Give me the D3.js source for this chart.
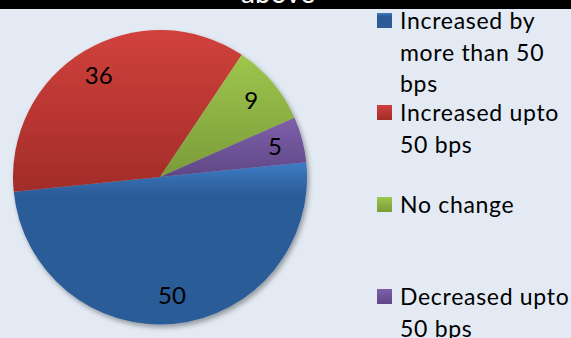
<!DOCTYPE html>
<html>
<head>
<meta charset="utf-8">
<script src="https://cdn.jsdelivr.net/npm/d3@7"></script>
<style>
  html, body { margin: 0; padding: 0; background: #E3EAF3; }
  svg { display: block; }
  text { font-family: Lato, "Liberation Sans", sans-serif; }
</style>
</head>
<body>
<svg id="chart" width="571" height="338"></svg>
<script>
// Share of responses by change in rate
const categories = [
  "Increased by more than 50 bps",
  "Increased upto 50 bps",
  "No change",
  "Decreased upto 50 bps"
];
const values = [50, 36, 9, 5];
// legend text broken into display lines
const legendLines = [
  ["Increased by", "more than 50", "bps"],
  ["Increased upto", "50 bps"],
  ["No change"],
  ["Decreased upto", "50 bps"]
];
const titleText = "above";

// light (top) and dark (bottom) tone of each slice
const colorTop = ["#3D7DC6", "#D1413C", "#9EC64C", "#7E5FA9"];
const colorBottom = ["#2C5C98", "#A22C29", "#7B9B3A", "#5F4886"];

const W = 571, H = 338;
const cx = 160, cy = 177, R = 147;

const svg = d3.select("#chart");
const defs = svg.append("defs");

// soft drop shadow under the pie
const shadow = defs.append("filter").attr("id", "pieShadow")
  .attr("x", "-10%").attr("y", "-10%").attr("width", "125%").attr("height", "125%");
shadow.append("feDropShadow")
  .attr("dx", 2).attr("dy", 3).attr("stdDeviation", 2.5)
  .attr("flood-color", "#000").attr("flood-opacity", 0.35);

categories.forEach((c, i) => {
  const g = defs.append("linearGradient").attr("id", "grad" + i)
    .attr("x1", 0).attr("y1", 0).attr("x2", 0).attr("y2", 1);
  if (i === 0) {
    g.append("stop").attr("offset", "0%").attr("stop-color", colorTop[i]);
    g.append("stop").attr("offset", "20%").attr("stop-color", colorBottom[i]);
    g.append("stop").attr("offset", "100%").attr("stop-color", colorBottom[i]);
  } else {
    g.append("stop").attr("offset", "0%").attr("stop-color", colorTop[i]);
    g.append("stop").attr("offset", "100%").attr("stop-color", colorBottom[i]);
  }
});

// background
svg.append("rect").attr("width", W).attr("height", H).attr("fill", "#E3EAF3");

// title strip (heading runs off the top edge)
svg.append("rect").attr("width", W).attr("height", 9).attr("fill", "#000");
svg.append("text")
  .attr("x", 278).attr("y", 3)
  .attr("text-anchor", "middle")
  .attr("fill", "#fff")
  .attr("font-size", 28)
  .text(titleText);

// pie
const startDeg = 84.2;
const pie = d3.pie().sort(null)
  .startAngle(startDeg * Math.PI / 180)
  .endAngle(startDeg * Math.PI / 180 + 2 * Math.PI);
const arcs = pie(values);
const arc = d3.arc().innerRadius(0).outerRadius(R);
const labelArc = d3.arc().innerRadius(119).outerRadius(119);

const pg = svg.append("g").attr("transform", `translate(${cx},${cy})`);
pg.append("g").attr("filter", "url(#pieShadow)")
  .selectAll("path").data(arcs).join("path")
  .attr("d", arc)
  .attr("fill", (d, i) => `url(#grad${i})`);

pg.selectAll("text.val").data(arcs).join("text")
  .attr("class", "val")
  .attr("transform", d => {
    const [x, y] = labelArc.centroid(d);
    return `translate(${x},${y})`;
  })
  .attr("dy", "0.36em")
  .attr("text-anchor", "middle")
  .attr("font-size", 24)
  .attr("fill", "#000")
  .text(d => d.data);

// legend
const legend = svg.append("g").attr("transform", "translate(377,13)");
const item = legend.selectAll("g").data(categories).join("g")
  .attr("transform", (d, i) => `translate(0,${i * 92})`);
item.append("rect")
  .attr("width", 15).attr("height", 15)
  .attr("fill", (d, i) => `url(#grad${i})`);
item.append("text")
  .attr("x", 23).attr("y", 16)
  .attr("font-size", 23)
  .attr("letter-spacing", 0.7)
  .attr("fill", "#000")
  .selectAll("tspan").data((d, i) => legendLines[i]).join("tspan")
  .attr("x", 23)
  .attr("dy", (d, j) => j === 0 ? 0 : 31.5)
  .text(d => d);
</script>
</body>
</html>
